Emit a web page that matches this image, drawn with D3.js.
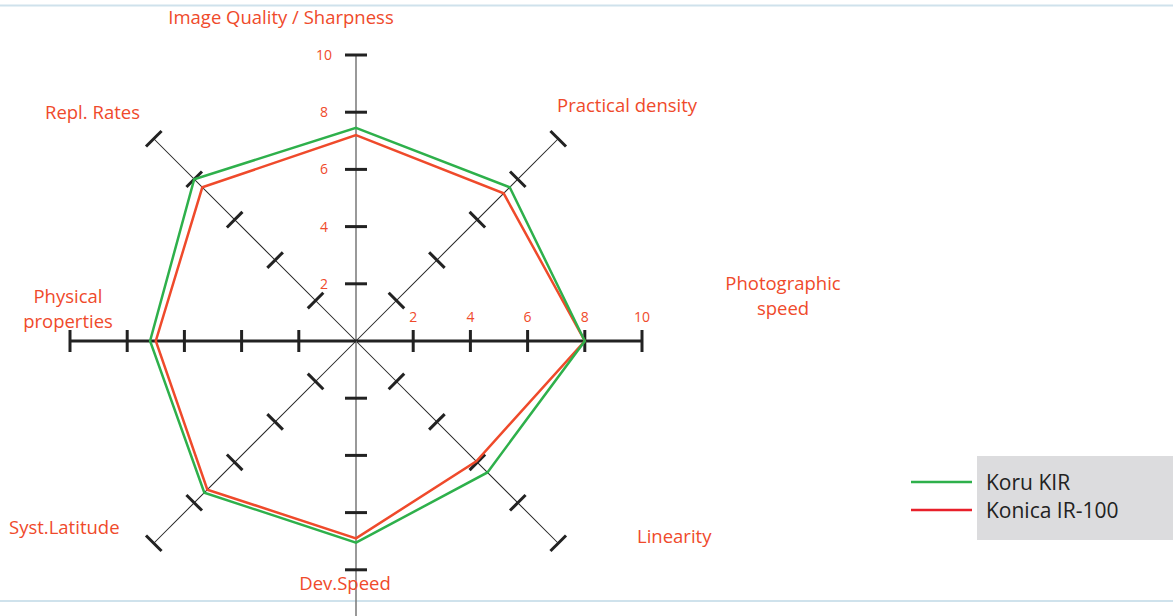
<!DOCTYPE html>
<html>
<head>
<meta charset="utf-8">
<script src="https://cdn.jsdelivr.net/npm/d3@7"></script>
<style>
  body { margin: 0; background: #fff; }
  svg { display: block; }
</style>
</head>
<body>
<div id="chart"></div>
<script>
const width = 1173;
const height = 616;
const cx = 356, cy = 341;

// axes, clockwise from the top
const axes = ["Image Quality / Sharpness", "Practical density", "Photographic speed", "Linearity",
  "Dev.Speed", "Syst.Latitude", "Physical properties", "Repl. Rates"];
const tickValues = [2, 4, 6, 8, 10];
const koruKIR = [7.45, 7.6, 8.0, 6.5, 7.05, 7.5, 7.2, 8.0];
const konicaIR100 = [7.2, 7.3, 8.0, 5.95, 6.9, 7.35, 7.0, 7.6];
const seriesNames = ["Koru KIR", "Konica IR-100"];

const red = "#ef4a2b";
const green = "#2eb04b";

const svg = d3.select('#chart')
  .append('svg')
  .attr('width', width)
  .attr('height', height)
  .style('font-family', '"Open Sans", sans-serif');

// frame lines
svg.append('line').attr('x1', 0).attr('x2', width).attr('y1', 5.5).attr('y2', 5.5)
  .attr('stroke', '#cfe2ec').attr('stroke-width', 2);
svg.append('line').attr('x1', 0).attr('x2', width).attr('y1', 601).attr('y2', 601)
  .attr('stroke', '#cfe2ec').attr('stroke-width', 2);

const r = d3.scaleLinear().domain([0, 10]).range([0, 286]);
const angle = d3.scalePoint().domain(d3.range(axes.length)).range([0, 2 * Math.PI * (axes.length - 1) / axes.length]);

const g = svg.append('g').attr('transform', `translate(${cx}, ${cy})`);

// axes
axes.forEach((name, i) => {
  const a = angle(i);
  const deg = a * 180 / Math.PI;
  const ax = g.append('g').attr('transform', `rotate(${deg})`);
  const vertical = i === 0 || i === 4;
  const horizontal = i === 2 || i === 6;
  ax.append('line')
    .attr('x1', 0).attr('y1', 0)
    .attr('x2', 0).attr('y2', i === 4 ? -r(10.5) : -r(10))
    .attr('stroke', vertical ? '#777' : '#222')
    .attr('stroke-width', horizontal ? 3 : (vertical ? 1.5 : 1));
  ax.selectAll('line.tick')
    .data(tickValues)
    .enter()
    .append('line')
    .attr('class', 'tick')
    .attr('x1', -11).attr('x2', 11)
    .attr('y1', d => -r(d)).attr('y2', d => -r(d))
    .attr('stroke', '#222')
    .attr('stroke-width', 3);
});

// tick labels on the upper vertical axis and right horizontal axis
g.selectAll('text.vtick')
  .data(tickValues)
  .enter()
  .append('text')
  .attr('x', -32)
  .attr('y', d => -r(d) + 5)
  .attr('text-anchor', 'middle')
  .attr('fill', red)
  .style('font-size', '14px')
  .text(d => d);

g.selectAll('text.htick')
  .data(tickValues)
  .enter()
  .append('text')
  .attr('x', d => r(d))
  .attr('y', -19)
  .attr('text-anchor', 'middle')
  .attr('fill', red)
  .style('font-size', '14px')
  .text(d => d);

// series
const radial = d3.lineRadial()
  .angle((d, i) => angle(i))
  .radius(d => r(d))
  .curve(d3.curveLinearClosed);

g.append('path').datum(konicaIR100)
  .attr('d', radial).attr('fill', 'none').attr('stroke', red).attr('stroke-width', 2.5);
g.append('path').datum(koruKIR)
  .attr('d', radial).attr('fill', 'none').attr('stroke', green).attr('stroke-width', 2.5);

// axis labels
const labelPos = [
  {x: 281, y: [24], anchor: 'middle'},
  {x: 557, y: [112], anchor: 'start'},
  {x: 783, y: [290, 315], anchor: 'middle'},
  {x: 637, y: [543], anchor: 'start'},
  {x: 345, y: [590], anchor: 'middle'},
  {x: 9, y: [534], anchor: 'start'},
  {x: 68, y: [303, 328], anchor: 'middle'},
  {x: 45, y: [119], anchor: 'start'}
];
const labelLines = axes.map((name, i) => {
  if (i === 2) return ["Photographic", "speed"];
  if (i === 6) return ["Physical", "properties"];
  return [name];
});
labelLines.forEach((lines, i) => {
  const p = labelPos[i];
  const t = svg.append('text')
    .attr('text-anchor', p.anchor)
    .attr('fill', red)
    .style('font-size', '18.5px');
  lines.forEach((ln, j) => {
    t.append('tspan').attr('x', p.x).attr('y', p.y[j]).text(ln);
  });
});

// legend
svg.append('rect').attr('x', 977).attr('y', 456).attr('width', 196).attr('height', 84).attr('fill', '#dcdcde');
const legendColors = [green, "#e8202a"];
seriesNames.forEach((name, i) => {
  const y = 482 + i * 28;
  svg.append('line').attr('x1', 911).attr('x2', 972).attr('y1', y).attr('y2', y)
    .attr('stroke', legendColors[i]).attr('stroke-width', 2.5);
  svg.append('text').attr('x', 986).attr('y', y + 8)
    .attr('fill', '#222').style('font-size', '21px').text(name);
});
</script>
</body>
</html>
